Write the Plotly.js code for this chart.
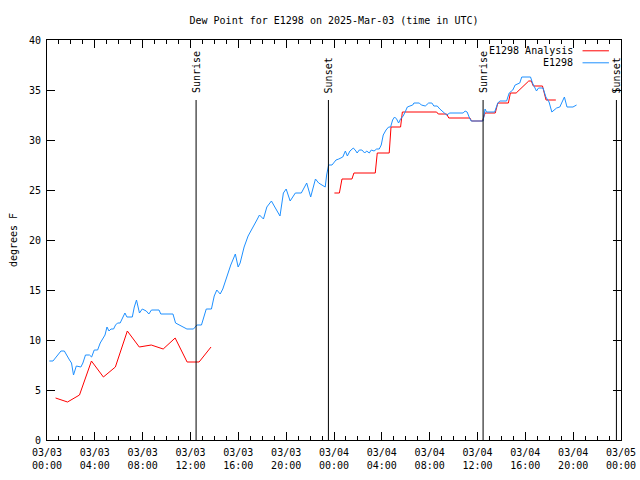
<!DOCTYPE html>
<html>
<head>
<meta charset="utf-8">
<script src="https://cdn.plot.ly/plotly-3.0.1.min.js"></script>
<style>html,body{margin:0;padding:0;background:#fff}#chart{width:640px;height:480px}</style>
</head>
<body>
<div id="chart"></div>
<script>
// ---- Data ----
const obsTimes = [
"2025-03-03 00:12","2025-03-03 00:30","2025-03-03 00:50","2025-03-03 01:10","2025-03-03 01:27","2025-03-03 01:40","2025-03-03 01:53","2025-03-03 02:03","2025-03-03 02:13","2025-03-03 02:27",
"2025-03-03 02:40","2025-03-03 02:50","2025-03-03 03:00","2025-03-03 03:13","2025-03-03 03:33","2025-03-03 03:44","2025-03-03 03:57","2025-03-03 04:14","2025-03-03 04:27","2025-03-03 04:41",
"2025-03-03 04:51","2025-03-03 05:01","2025-03-03 05:11","2025-03-03 05:21","2025-03-03 05:34","2025-03-03 05:44","2025-03-03 05:54","2025-03-03 06:07","2025-03-03 06:17","2025-03-03 06:31",
"2025-03-03 06:41","2025-03-03 07:08","2025-03-03 07:18","2025-03-03 07:29","2025-03-03 07:44","2025-03-03 07:58","2025-03-03 08:18","2025-03-03 08:31","2025-03-03 08:44","2025-03-03 09:22",
"2025-03-03 09:31","2025-03-03 10:32","2025-03-03 10:45","2025-03-03 11:05","2025-03-03 11:22","2025-03-03 11:42","2025-03-03 12:15","2025-03-03 12:32","2025-03-03 12:55","2025-03-03 13:08",
"2025-03-03 13:19","2025-03-03 13:45","2025-03-03 13:59","2025-03-03 14:12","2025-03-03 14:29","2025-03-03 14:42","2025-03-03 15:02","2025-03-03 15:22","2025-03-03 15:45","2025-03-03 15:59",
"2025-03-03 16:09","2025-03-03 16:29","2025-03-03 16:49","2025-03-03 17:04","2025-03-03 17:17","2025-03-03 17:33","2025-03-03 17:46","2025-03-03 18:06","2025-03-03 18:23","2025-03-03 18:46",
"2025-03-03 19:03","2025-03-03 19:29","2025-03-03 19:46","2025-03-03 20:00","2025-03-03 20:20","2025-03-03 20:46","2025-03-03 21:16","2025-03-03 21:43","2025-03-03 22:03","2025-03-03 22:27",
"2025-03-03 22:43","2025-03-03 23:16","2025-03-03 23:23","2025-03-03 23:33","2025-03-03 23:50","2025-03-04 00:10","2025-03-04 00:24","2025-03-04 00:44","2025-03-04 00:57","2025-03-04 01:07",
"2025-03-04 01:20","2025-03-04 01:37","2025-03-04 01:50","2025-03-04 01:56","2025-03-04 02:07","2025-03-04 02:20","2025-03-04 02:34","2025-03-04 02:44","2025-03-04 02:57","2025-03-04 03:07",
"2025-03-04 03:21","2025-03-04 03:34","2025-03-04 03:47","2025-03-04 03:57","2025-03-04 04:07","2025-03-04 04:21","2025-03-04 04:34","2025-03-04 04:44","2025-03-04 04:54","2025-03-04 05:04",
"2025-03-04 05:14","2025-03-04 05:24","2025-03-04 05:34","2025-03-04 05:47","2025-03-04 05:57","2025-03-04 06:08","2025-03-04 06:21","2025-03-04 06:35","2025-03-04 06:41","2025-03-04 07:08",
"2025-03-04 07:18","2025-03-04 07:38","2025-03-04 07:55","2025-03-04 08:11","2025-03-04 08:21","2025-03-04 08:38","2025-03-04 08:51","2025-03-04 09:08","2025-03-04 09:25","2025-03-04 09:41",
"2025-03-04 10:48","2025-03-04 10:58","2025-03-04 11:08","2025-03-04 11:18","2025-03-04 11:28","2025-03-04 12:28","2025-03-04 12:38","2025-03-04 12:45","2025-03-04 13:26","2025-03-04 13:42",
"2025-03-04 13:52","2025-03-04 14:26","2025-03-04 14:39","2025-03-04 14:57","2025-03-04 15:09","2025-03-04 15:32","2025-03-04 15:42","2025-03-04 16:26","2025-03-04 16:36","2025-03-04 16:56",
"2025-03-04 17:06","2025-03-04 17:29","2025-03-04 17:43","2025-03-04 17:59","2025-03-04 18:13","2025-03-04 18:37","2025-03-04 18:53","2025-03-04 19:16","2025-03-04 19:29","2025-03-04 19:59",
"2025-03-04 20:17"
];
const obsDew = [
7.9,7.9,8.4,8.9,8.9,8.4,8.0,7.7,6.5,7.4,
7.3,7.3,7.7,8.5,8.5,8.3,9.0,9.0,9.7,10.1,
10.5,11.3,10.9,11.1,11.1,11.5,11.7,11.7,12.1,12.7,
12.3,12.3,13.3,14.0,12.7,13.1,12.9,12.6,13.0,13.0,
12.6,12.6,11.7,11.5,11.3,11.1,11.1,11.5,11.5,12.3,
13.1,13.1,14.4,15.0,14.6,15.1,16.3,17.5,18.6,17.3,
17.7,19.3,20.4,21.0,21.4,22.0,22.5,22.1,23.3,23.9,
23.3,22.4,24.7,25.1,23.9,24.7,24.7,25.7,24.3,26.1,
25.7,25.3,26.5,27.5,27.5,28.0,28.1,28.3,28.9,28.4,
28.9,29.2,28.9,28.7,29.0,29.0,28.7,28.9,28.7,29.0,
28.9,29.1,29.1,29.5,30.5,31.0,31.3,31.3,32.0,32.3,
32.1,31.7,32.1,32.4,32.8,33.3,33.4,33.5,33.7,33.7,
33.5,33.4,33.7,33.7,33.4,33.4,33.1,32.8,32.5,32.7,
32.7,32.9,32.8,32.3,31.9,31.9,33.1,32.8,32.8,33.7,
33.9,33.9,34.7,35.0,35.5,35.7,36.3,36.3,35.7,34.9,
35.2,35.2,34.3,33.8,32.8,33.2,33.3,34.3,33.3,33.3,
33.5
];

const anaTimes = [
"2025-03-03 00:43","2025-03-03 01:43","2025-03-03 02:43","2025-03-03 03:43","2025-03-03 04:43","2025-03-03 05:43","2025-03-03 06:43",
"2025-03-03 07:43","2025-03-03 08:43","2025-03-03 09:43","2025-03-03 10:43","2025-03-03 11:43","2025-03-03 12:43","2025-03-03 13:43",
"2025-03-03 18:00",
"2025-03-04 00:02","2025-03-04 00:27","2025-03-04 00:40","2025-03-04 01:30","2025-03-04 01:40","2025-03-04 03:27","2025-03-04 03:37",
"2025-03-04 04:37","2025-03-04 04:46","2025-03-04 05:34","2025-03-04 05:43","2025-03-04 08:35","2025-03-04 08:43","2025-03-04 09:25",
"2025-03-04 09:36","2025-03-04 11:22","2025-03-04 11:30","2025-03-04 12:25","2025-03-04 12:38","2025-03-04 13:29","2025-03-04 13:42",
"2025-03-04 14:35","2025-03-04 14:45","2025-03-04 15:14","2025-03-04 16:17","2025-03-04 16:30","2025-03-04 16:40","2025-03-04 17:26",
"2025-03-04 17:44","2025-03-04 18:33"
];
const anaDew = [
4.2,3.8,4.5,7.9,6.3,7.3,10.9,
9.3,9.5,9.1,10.2,7.8,7.8,9.3,
null,
24.7,24.7,26.1,26.1,26.7,26.7,28.7,
28.7,31.3,31.3,32.8,32.8,32.6,32.6,
32.2,32.2,31.9,31.9,32.7,32.7,33.7,
33.7,34.7,34.7,35.9,35.9,35.4,35.4,
34.0,34.0
];

const sunTimes  = ["2025-03-03 12:28","2025-03-03 23:32","2025-03-04 12:28","2025-03-04 23:37"];
const sunLabels = ["Sunrise","Sunset","Sunrise","Sunset"];
const sunTop = 34;

const tickVals = ["2025-03-03 00:00","2025-03-03 04:00","2025-03-03 08:00","2025-03-03 12:00","2025-03-03 16:00","2025-03-03 20:00",
                  "2025-03-04 00:00","2025-03-04 04:00","2025-03-04 08:00","2025-03-04 12:00","2025-03-04 16:00","2025-03-04 20:00","2025-03-05 00:00"];
const tickText = ["03/03<br>00:00","03/03<br>04:00","03/03<br>08:00","03/03<br>12:00","03/03<br>16:00","03/03<br>20:00",
                  "03/04<br>00:00","03/04<br>04:00","03/04<br>08:00","03/04<br>12:00","03/04<br>16:00","03/04<br>20:00","03/05<br>00:00"];
const seriesNames = ["E1298 Analysis","E1298"];
const seriesColors = ["#ff0000","#1e90ff"];

// ---- Chart ----
const FONT = "DejaVu Sans Mono, monospace";
const traces = [
  {x: anaTimes, y: anaDew, type: "scatter", mode: "lines", name: seriesNames[0],
   line: {color: seriesColors[0], width: 1}, connectgaps: false, showlegend: false},
  {x: obsTimes, y: obsDew, type: "scatter", mode: "lines", name: seriesNames[1],
   line: {color: seriesColors[1], width: 1}, showlegend: false}
];

const shapes = [];
const annotations = [];
sunTimes.forEach((t, i) => {
  shapes.push({type: "line", xref: "x", yref: "y", x0: t, x1: t, y0: 0, y1: sunTop,
               line: {color: "#000", width: 1}});
  annotations.push({xref: "x", yref: "y", x: t, y: sunTop, text: sunLabels[i], textangle: -90,
                    showarrow: false, xanchor: "center", yanchor: "bottom", yshift: 5,
                    font: {family: FONT, size: 10, color: "#000"}});
});

// custom legend (text then line sample, like the original)
const legY = [0.973, 0.943];
seriesNames.forEach((n, i) => {
  annotations.push({xref: "paper", yref: "paper", x: 0.92, y: legY[i], text: n, showarrow: false,
                    xanchor: "right", yanchor: "middle", font: {family: FONT, size: 10, color: "#000"}});
  shapes.push({type: "line", xref: "paper", yref: "paper", x0: 0.933, x1: 0.979, y0: legY[i], y1: legY[i],
               line: {color: seriesColors[i], width: 1}});
});

const layout = {
  width: 640, height: 480,
  margin: {l: 47, r: 19, t: 40, b: 40, pad: 0},
  paper_bgcolor: "#fff", plot_bgcolor: "#fff",
  font: {family: FONT, size: 10, color: "#000"},
  title: {text: "Dew Point for E1298 on 2025-Mar-03 (time in UTC)", xref: "paper", x: 0.5,
          yref: "container", y: 0.958, yanchor: "middle", font: {family: FONT, size: 10, color: "#000"}},
  xaxis: {type: "date", range: ["2025-03-03 00:00", "2025-03-05 00:00"],
          tickmode: "array", tickvals: tickVals, ticktext: tickText,
          ticks: "inside", ticklen: 8, tickwidth: 1, tickcolor: "#000", ticklabelstandoff: 3,
          showline: true, linecolor: "#000", linewidth: 1, mirror: "ticks",
          showgrid: false, zeroline: false, fixedrange: true,
          minor: {dtick: 3600000, ticks: "inside", ticklen: 4, tickcolor: "#000", tickwidth: 1, showgrid: false},
          tickfont: {family: FONT, size: 10, color: "#000"}},
  yaxis: {range: [0, 40], tickmode: "linear", tick0: 0, dtick: 5,
          ticks: "inside", ticklen: 8, tickwidth: 1, tickcolor: "#000", ticklabelstandoff: 3,
          showline: true, linecolor: "#000", linewidth: 1, mirror: "ticks",
          showgrid: false, zeroline: false, fixedrange: true,
          tickfont: {family: FONT, size: 10, color: "#000"},
          title: {text: "degrees F", font: {family: FONT, size: 10, color: "#000"}}},
  shapes: shapes,
  annotations: annotations,
  showlegend: false
};

Plotly.newPlot("chart", traces, layout, {displayModeBar: false, staticPlot: true});
</script>
</body>
</html>
